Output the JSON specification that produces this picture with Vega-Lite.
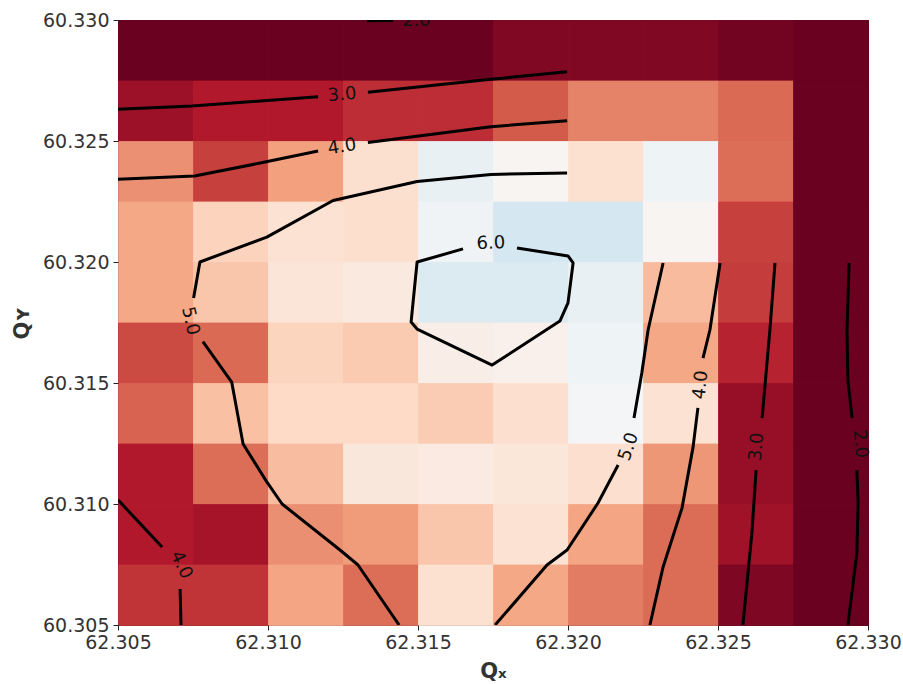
{
"$schema": "https://vega.github.io/schema/vega-lite/v6.json",
"width": 750, "height": 605,
"autosize": {"type": "none"},
"padding": {"left": 118, "top": 20, "right": 35, "bottom": 59},
"background": "white",
"config": {"font": "DejaVu Sans", "view": {"stroke": "#222", "strokeWidth": 1}},
"datasets": {
"cells": [
{"qx":62.30625,"qy":60.32875,"v":1.54},{"qx":62.30875,"qy":60.32875,"v":1.54},{"qx":62.31125,"qy":60.32875,"v":1.54},{"qx":62.31375,"qy":60.32875,"v":1.54},{"qx":62.31625,"qy":60.32875,"v":1.54},{"qx":62.31875,"qy":60.32875,"v":1.78},{"qx":62.32125,"qy":60.32875,"v":1.78},{"qx":62.32375,"qy":60.32875,"v":1.78},{"qx":62.32625,"qy":60.32875,"v":1.63},{"qx":62.32875,"qy":60.32875,"v":1.54},
{"qx":62.30625,"qy":60.32625,"v":2.07},{"qx":62.30875,"qy":60.32625,"v":2.3},{"qx":62.31125,"qy":60.32625,"v":2.3},{"qx":62.31375,"qy":60.32625,"v":2.53},{"qx":62.31625,"qy":60.32625,"v":2.53},{"qx":62.31875,"qy":60.32625,"v":3.04},{"qx":62.32125,"qy":60.32625,"v":3.5},{"qx":62.32375,"qy":60.32625,"v":3.5},{"qx":62.32625,"qy":60.32625,"v":3.22},{"qx":62.32875,"qy":60.32625,"v":1.54},
{"qx":62.30625,"qy":60.32375,"v":3.66},{"qx":62.30875,"qy":60.32375,"v":2.74},{"qx":62.31125,"qy":60.32375,"v":3.84},{"qx":62.31375,"qy":60.32375,"v":4.84},{"qx":62.31625,"qy":60.32375,"v":5.81},{"qx":62.31875,"qy":60.32375,"v":5.41},{"qx":62.32125,"qy":60.32375,"v":4.86},{"qx":62.32375,"qy":60.32375,"v":5.69},{"qx":62.32625,"qy":60.32375,"v":3.26},{"qx":62.32875,"qy":60.32375,"v":1.54},
{"qx":62.30625,"qy":60.32125,"v":3.95},{"qx":62.30875,"qy":60.32125,"v":4.58},{"qx":62.31125,"qy":60.32125,"v":4.9},{"qx":62.31375,"qy":60.32125,"v":4.8},{"qx":62.31625,"qy":60.32125,"v":5.66},{"qx":62.31875,"qy":60.32125,"v":6.22},{"qx":62.32125,"qy":60.32125,"v":6.22},{"qx":62.32375,"qy":60.32125,"v":5.42},{"qx":62.32625,"qy":60.32125,"v":2.74},{"qx":62.32875,"qy":60.32125,"v":1.54},
{"qx":62.30625,"qy":60.31875,"v":3.94},{"qx":62.30875,"qy":60.31875,"v":4.37},{"qx":62.31125,"qy":60.31875,"v":4.99},{"qx":62.31375,"qy":60.31875,"v":5.1},{"qx":62.31625,"qy":60.31875,"v":6.07},{"qx":62.31875,"qy":60.31875,"v":6.07},{"qx":62.32125,"qy":60.31875,"v":5.81},{"qx":62.32375,"qy":60.31875,"v":4.23},{"qx":62.32625,"qy":60.31875,"v":2.7},{"qx":62.32875,"qy":60.31875,"v":1.54},
{"qx":62.30625,"qy":60.31625,"v":2.85},{"qx":62.30875,"qy":60.31625,"v":3.22},{"qx":62.31125,"qy":60.31625,"v":4.61},{"qx":62.31375,"qy":60.31625,"v":4.45},{"qx":62.31625,"qy":60.31625,"v":5.24},{"qx":62.31875,"qy":60.31625,"v":5.3},{"qx":62.32125,"qy":60.31625,"v":5.7},{"qx":62.32375,"qy":60.31625,"v":3.94},{"qx":62.32625,"qy":60.31625,"v":2.41},{"qx":62.32875,"qy":60.31625,"v":1.54},
{"qx":62.30625,"qy":60.31375,"v":3.14},{"qx":62.30875,"qy":60.31375,"v":4.3},{"qx":62.31125,"qy":60.31375,"v":4.7},{"qx":62.31375,"qy":60.31375,"v":4.7},{"qx":62.31625,"qy":60.31375,"v":4.48},{"qx":62.31875,"qy":60.31375,"v":4.82},{"qx":62.32125,"qy":60.31375,"v":5.58},{"qx":62.32375,"qy":60.31375,"v":4.9},{"qx":62.32625,"qy":60.31375,"v":2.01},{"qx":62.32875,"qy":60.31375,"v":1.54},
{"qx":62.30625,"qy":60.31125,"v":2.3},{"qx":62.30875,"qy":60.31125,"v":3.26},{"qx":62.31125,"qy":60.31125,"v":4.26},{"qx":62.31375,"qy":60.31125,"v":5.04},{"qx":62.31625,"qy":60.31125,"v":5.14},{"qx":62.31875,"qy":60.31125,"v":5.02},{"qx":62.32125,"qy":60.31125,"v":4.82},{"qx":62.32375,"qy":60.31125,"v":3.74},{"qx":62.32625,"qy":60.31125,"v":2.01},{"qx":62.32875,"qy":60.31125,"v":1.54},
{"qx":62.30625,"qy":60.30875,"v":2.3},{"qx":62.30875,"qy":60.30875,"v":2.16},{"qx":62.31125,"qy":60.30875,"v":3.64},{"qx":62.31375,"qy":60.30875,"v":3.78},{"qx":62.31625,"qy":60.30875,"v":4.37},{"qx":62.31875,"qy":60.30875,"v":4.9},{"qx":62.32125,"qy":60.30875,"v":3.92},{"qx":62.32375,"qy":60.30875,"v":3.24},{"qx":62.32625,"qy":60.30875,"v":2.11},{"qx":62.32875,"qy":60.30875,"v":1.54},
{"qx":62.30625,"qy":60.30625,"v":2.61},{"qx":62.30875,"qy":60.30625,"v":2.61},{"qx":62.31125,"qy":60.30625,"v":3.92},{"qx":62.31375,"qy":60.30625,"v":3.26},{"qx":62.31625,"qy":60.30625,"v":4.86},{"qx":62.31875,"qy":60.30625,"v":3.94},{"qx":62.32125,"qy":60.30625,"v":3.42},{"qx":62.32375,"qy":60.30625,"v":3.24},{"qx":62.32625,"qy":60.30625,"v":1.74},{"qx":62.32875,"qy":60.30625,"v":1.54}
],
"contours": [
{"seg":"2t","i":0,"qx":62.3133,"qy":60.32997},{"seg":"2t","i":1,"qx":62.31417,"qy":60.32998},
{"seg":"3a","i":0,"qx":62.305,"qy":60.32631},{"seg":"3a","i":1,"qx":62.30747,"qy":60.32645},{"seg":"3a","i":2,"qx":62.31167,"qy":60.32683},
{"seg":"3b","i":0,"qx":62.31333,"qy":60.32701},{"seg":"3b","i":1,"qx":62.31743,"qy":60.32755},{"seg":"3b","i":2,"qx":62.31997,"qy":60.32786},
{"seg":"4a","i":0,"qx":62.305,"qy":60.32342},{"seg":"4a","i":1,"qx":62.30755,"qy":60.32355},{"seg":"4a","i":2,"qx":62.30978,"qy":60.3241},{"seg":"4a","i":3,"qx":62.31167,"qy":60.32459},
{"seg":"4b","i":0,"qx":62.31333,"qy":60.32494},{"seg":"4b","i":1,"qx":62.31743,"qy":60.32559},{"seg":"4b","i":2,"qx":62.31997,"qy":60.32584},
{"seg":"5a","i":0,"qx":62.31997,"qy":60.32368},{"seg":"5a","i":1,"qx":62.31743,"qy":60.32362},{"seg":"5a","i":2,"qx":62.31497,"qy":60.32333},{"seg":"5a","i":3,"qx":62.31217,"qy":60.32254},{"seg":"5a","i":4,"qx":62.30996,"qy":60.32103},{"seg":"5a","i":5,"qx":62.30773,"qy":60.32},{"seg":"5a","i":6,"qx":62.30752,"qy":60.31851},
{"seg":"5b","i":0,"qx":62.30783,"qy":60.31671},{"seg":"5b","i":1,"qx":62.30879,"qy":60.31504},{"seg":"5b","i":2,"qx":62.30917,"qy":60.31248},{"seg":"5b","i":3,"qx":62.30996,"qy":60.31091},{"seg":"5b","i":4,"qx":62.31047,"qy":60.31},{"seg":"5b","i":5,"qx":62.3124,"qy":60.3081},{"seg":"5b","i":6,"qx":62.313,"qy":60.30748},{"seg":"5b","i":7,"qx":62.31437,"qy":60.305},
{"seg":"5c","i":0,"qx":62.32317,"qy":60.31996},{"seg":"5c","i":1,"qx":62.32267,"qy":60.31719},{"seg":"5c","i":2,"qx":62.32246,"qy":60.31541},{"seg":"5c","i":3,"qx":62.3222,"qy":60.31355},
{"seg":"5d","i":0,"qx":62.32167,"qy":60.31161},{"seg":"5d","i":1,"qx":62.321,"qy":60.31004},{"seg":"5d","i":2,"qx":62.31997,"qy":60.3081},{"seg":"5d","i":3,"qx":62.3193,"qy":60.30748},{"seg":"5d","i":4,"qx":62.31757,"qy":60.305},
{"seg":"4c","i":0,"qx":62.32507,"qy":60.31996},{"seg":"4c","i":1,"qx":62.32473,"qy":60.31719},{"seg":"4c","i":2,"qx":62.3245,"qy":60.31603},
{"seg":"4d","i":0,"qx":62.32433,"qy":60.31397},{"seg":"4d","i":1,"qx":62.32417,"qy":60.31236},{"seg":"4d","i":2,"qx":62.3238,"qy":60.30983},{"seg":"4d","i":3,"qx":62.32317,"qy":60.3074},{"seg":"4d","i":4,"qx":62.32273,"qy":60.305},
{"seg":"3c","i":0,"qx":62.3269,"qy":60.31996},{"seg":"3c","i":1,"qx":62.32673,"qy":60.31719},{"seg":"3c","i":2,"qx":62.32647,"qy":60.31355},
{"seg":"3d","i":0,"qx":62.32627,"qy":60.3114},{"seg":"3d","i":1,"qx":62.32613,"qy":60.3088},{"seg":"3d","i":2,"qx":62.32583,"qy":60.305},
{"seg":"2c","i":0,"qx":62.32937,"qy":60.31996},{"seg":"2c","i":1,"qx":62.3293,"qy":60.31719},{"seg":"2c","i":2,"qx":62.32933,"qy":60.31512},{"seg":"2c","i":3,"qx":62.32947,"qy":60.31355},
{"seg":"2d","i":0,"qx":62.32963,"qy":60.3114},{"seg":"2d","i":1,"qx":62.32967,"qy":60.31004},{"seg":"2d","i":2,"qx":62.32963,"qy":60.30797},{"seg":"2d","i":3,"qx":62.32933,"qy":60.305},
{"seg":"4e","i":0,"qx":62.305,"qy":60.31017},{"seg":"4e","i":1,"qx":62.30647,"qy":60.30822},
{"seg":"4f","i":0,"qx":62.30707,"qy":60.30649},{"seg":"4f","i":1,"qx":62.3071,"qy":60.305},
{"seg":"6a","i":0,"qx":62.3165,"qy":60.32054},{"seg":"6a","i":1,"qx":62.31497,"qy":60.32},{"seg":"6a","i":2,"qx":62.31477,"qy":60.31752},{"seg":"6a","i":3,"qx":62.31497,"qy":60.31723},{"seg":"6a","i":4,"qx":62.31747,"qy":60.31574},{"seg":"6a","i":5,"qx":62.31973,"qy":60.31756},{"seg":"6a","i":6,"qx":62.32,"qy":60.31831},{"seg":"6a","i":7,"qx":62.32017,"qy":60.31996},{"seg":"6a","i":8,"qx":62.32,"qy":60.32025},{"seg":"6a","i":9,"qx":62.3183,"qy":60.32058}
],
"labels": [
{"id":"a","label":"2.0","qx":62.31495,"qy":60.32994},
{"id":"b","label":"3.0","qx":62.31247,"qy":60.3269},
{"id":"c","label":"4.0","qx":62.31247,"qy":60.32475},
{"id":"d","label":"6.0","qx":62.31743,"qy":60.32076},
{"id":"e","label":"5.0","qx":62.3074,"qy":60.31756},
{"id":"f","label":"5.0","qx":62.32203,"qy":60.31236},
{"id":"g","label":"4.0","qx":62.32443,"qy":60.31492},
{"id":"h","label":"3.0","qx":62.3263,"qy":60.31236},
{"id":"i","label":"2.0","qx":62.32973,"qy":60.31248},
{"id":"j","label":"4.0","qx":62.3071,"qy":60.30748}
]
},
"layer": [
{"data": {"name": "cells"},
 "mark": {"type": "rect", "binSpacing": 0, "strokeWidth": 0.8},
 "encoding": {
  "x": {"field": "qx", "type": "quantitative", "bin": {"step": 0.0025, "extent": [62.305, 62.33], "nice": false},
        "scale": {"domain": [62.305, 62.33], "nice": false, "zero": false}, "title": "Qₓ",
        "axis": {"values": [62.305, 62.31, 62.315, 62.32, 62.325, 62.33], "format": ".3f", "labelFontSize": 19, "labelColor": "#333", "tickColor": "#222", "tickSize": 5, "tickWidth": 1, "domain": false, "grid": false, "labelPadding": 3, "labelFlush": false, "labelOverlap": false, "titleFontSize": 21, "titleFontWeight": "bold", "titleColor": "#333", "titlePadding": 8}},
  "y": {"field": "qy", "type": "quantitative", "bin": {"step": 0.0025, "extent": [60.305, 60.33], "nice": false},
        "scale": {"domain": [60.305, 60.33], "nice": false, "zero": false}, "title": "Qʏ",
        "axis": {"values": [60.305, 60.31, 60.315, 60.32, 60.325, 60.33], "format": ".3f", "labelFontSize": 19, "labelColor": "#333", "tickColor": "#222", "tickSize": 5, "tickWidth": 1, "domain": false, "grid": false, "labelPadding": 4, "labelFlush": false, "labelOverlap": false, "titleFontSize": 21, "titleFontWeight": "bold", "titleColor": "#333", "titlePadding": 10}},
  "fill": {"field": "v", "type": "quantitative", "legend": null,
     "scale": {"type": "linear", "interpolate": "rgb", "domain": [1.5, 2.3, 3.1, 3.9, 4.7, 5.5, 6.3, 7.1, 7.9, 8.7, 9.5],
               "range": ["#67001f", "#b2182b", "#d6604d", "#f4a582", "#fddbc7", "#f7f7f7", "#d1e5f0", "#92c5de", "#4393c3", "#2166ac", "#053061"]}},
  "stroke": {"field": "v", "type": "quantitative", "legend": null,
     "scale": {"type": "linear", "interpolate": "rgb", "domain": [1.5, 2.3, 3.1, 3.9, 4.7, 5.5, 6.3, 7.1, 7.9, 8.7, 9.5],
               "range": ["#67001f", "#b2182b", "#d6604d", "#f4a582", "#fddbc7", "#f7f7f7", "#d1e5f0", "#92c5de", "#4393c3", "#2166ac", "#053061"]}}
 }},
{"data": {"name": "contours"},
 "mark": {"type": "line", "color": "black", "strokeWidth": 3, "clip": true, "strokeJoin": "round"},
 "encoding": {
  "x": {"field": "qx", "type": "quantitative", "scale": {"domain": [62.305, 62.33], "nice": false, "zero": false}, "title": "Qₓ"},
  "y": {"field": "qy", "type": "quantitative", "scale": {"domain": [60.305, 60.33], "nice": false, "zero": false}, "title": "Qʏ"},
  "detail": {"field": "seg"},
  "order": {"field": "i", "type": "quantitative"}
 }},
{"data": {"name": "labels"}, "transform": [{"filter": "datum.id === 'a'"}], "mark": {"type": "text", "fontSize": 18, "color": "#111", "align": "center", "baseline": "middle", "clip": true, "angle": 0}, "encoding": {"x": {"field": "qx", "type": "quantitative", "title": "Qₓ"}, "y": {"field": "qy", "type": "quantitative", "title": "Qʏ"}, "text": {"field": "label"}}},
{"data": {"name": "labels"}, "transform": [{"filter": "datum.id === 'b'"}], "mark": {"type": "text", "fontSize": 18, "color": "#111", "align": "center", "baseline": "middle", "angle": 355}, "encoding": {"x": {"field": "qx", "type": "quantitative", "title": "Qₓ"}, "y": {"field": "qy", "type": "quantitative", "title": "Qʏ"}, "text": {"field": "label"}}},
{"data": {"name": "labels"}, "transform": [{"filter": "datum.id === 'c'"}], "mark": {"type": "text", "fontSize": 18, "color": "#111", "align": "center", "baseline": "middle", "angle": 351}, "encoding": {"x": {"field": "qx", "type": "quantitative", "title": "Qₓ"}, "y": {"field": "qy", "type": "quantitative", "title": "Qʏ"}, "text": {"field": "label"}}},
{"data": {"name": "labels"}, "transform": [{"filter": "datum.id === 'd'"}], "mark": {"type": "text", "fontSize": 18, "color": "#111", "align": "center", "baseline": "middle", "angle": 358}, "encoding": {"x": {"field": "qx", "type": "quantitative", "title": "Qₓ"}, "y": {"field": "qy", "type": "quantitative", "title": "Qʏ"}, "text": {"field": "label"}}},
{"data": {"name": "labels"}, "transform": [{"filter": "datum.id === 'e'"}], "mark": {"type": "text", "fontSize": 18, "color": "#111", "align": "center", "baseline": "middle", "angle": 77}, "encoding": {"x": {"field": "qx", "type": "quantitative", "title": "Qₓ"}, "y": {"field": "qy", "type": "quantitative", "title": "Qʏ"}, "text": {"field": "label"}}},
{"data": {"name": "labels"}, "transform": [{"filter": "datum.id === 'f'"}], "mark": {"type": "text", "fontSize": 18, "color": "#111", "align": "center", "baseline": "middle", "angle": 289}, "encoding": {"x": {"field": "qx", "type": "quantitative", "title": "Qₓ"}, "y": {"field": "qy", "type": "quantitative", "title": "Qʏ"}, "text": {"field": "label"}}},
{"data": {"name": "labels"}, "transform": [{"filter": "datum.id === 'g'"}], "mark": {"type": "text", "fontSize": 18, "color": "#111", "align": "center", "baseline": "middle", "angle": 276}, "encoding": {"x": {"field": "qx", "type": "quantitative", "title": "Qₓ"}, "y": {"field": "qy", "type": "quantitative", "title": "Qʏ"}, "text": {"field": "label"}}},
{"data": {"name": "labels"}, "transform": [{"filter": "datum.id === 'h'"}], "mark": {"type": "text", "fontSize": 18, "color": "#111", "align": "center", "baseline": "middle", "angle": 275}, "encoding": {"x": {"field": "qx", "type": "quantitative", "title": "Qₓ"}, "y": {"field": "qy", "type": "quantitative", "title": "Qʏ"}, "text": {"field": "label"}}},
{"data": {"name": "labels"}, "transform": [{"filter": "datum.id === 'i'"}], "mark": {"type": "text", "fontSize": 18, "color": "#111", "align": "center", "baseline": "middle", "angle": 84}, "encoding": {"x": {"field": "qx", "type": "quantitative", "title": "Qₓ"}, "y": {"field": "qy", "type": "quantitative", "title": "Qʏ"}, "text": {"field": "label"}}},
{"data": {"name": "labels"}, "transform": [{"filter": "datum.id === 'j'"}], "mark": {"type": "text", "fontSize": 18, "color": "#111", "align": "center", "baseline": "middle", "angle": 65}, "encoding": {"x": {"field": "qx", "type": "quantitative", "title": "Qₓ"}, "y": {"field": "qy", "type": "quantitative", "title": "Qʏ"}, "text": {"field": "label"}}}
]
}
